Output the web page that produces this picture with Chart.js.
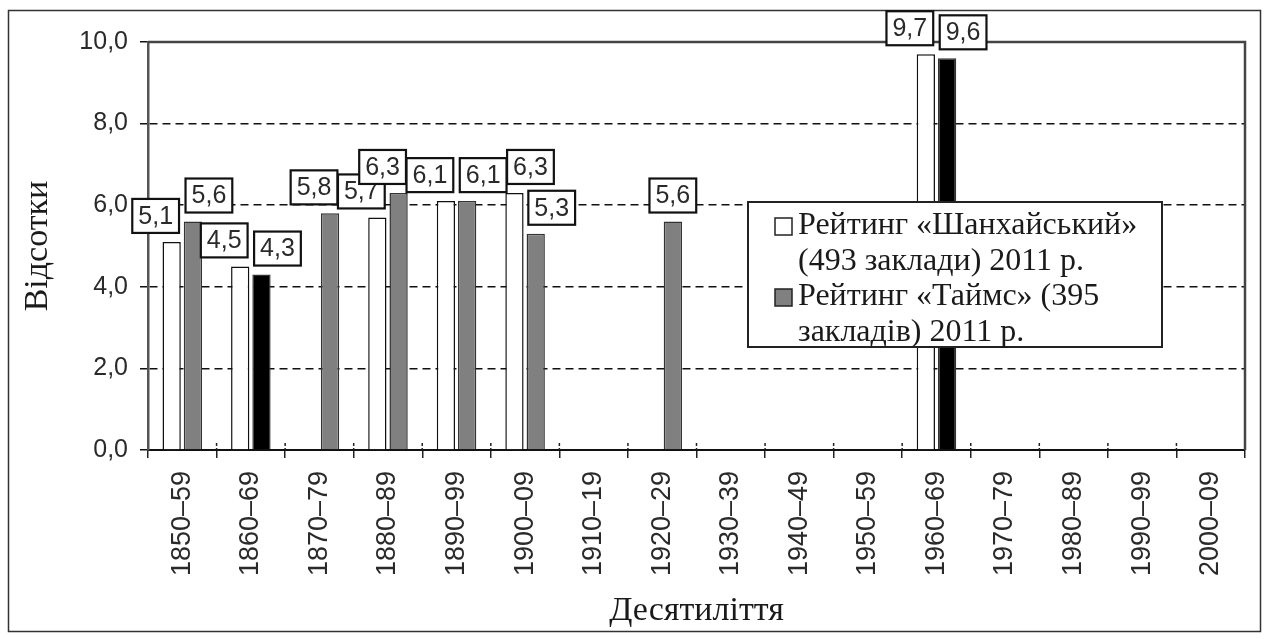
<!DOCTYPE html>
<html>
<head>
<meta charset="utf-8">
<title>Десятиліття заснування університетів</title>
<script src="https://cdn.jsdelivr.net/npm/chart.js@4/dist/chart.umd.min.js"></script>
<style>
    html, body { margin: 0; padding: 0; background: #fff; }
</style>
</head>
<body>
<canvas id="decadesChart" width="1268" height="639"></canvas>
<script>
// десятиліття заснування
var decades = ['1850–59', '1860–69', '1870–79', '1880–89', '1890–99', '1900–09', '1910–19', '1920–29',
               '1930–39', '1940–49', '1950–59', '1960–69', '1970–79', '1980–89', '1990–99', '2000–09'];
// відсотки закладів, null = стовпчика немає
var shanghai = [5.1, 4.5, null, 5.7, 6.1, 6.3, null, null, null, null, null, 9.7, null, null, null, null];
var times = [5.6, 4.3, 5.8, 6.3, 6.1, 5.3, null, 5.6, null, null, null, 9.6, null, null, null, null];
var yTicks = [0, 2, 4, 6, 8, 10];
var shanghaiLegend = ['Рейтинг «Шанхайський»', '(493 заклади) 2011 р.'];
var timesLegend = ['Рейтинг «Таймс» (395', 'закладів) 2011 р.'];
// ці стовпчики «Таймс» в оригіналі чорні
var timesDark = ['1860–69', '1960–69'];

var SANS = '"Liberation Sans", Arial, sans-serif';
var SERIF = '"Liberation Serif", "Times New Roman", serif';

function fmt(v) {
    return Number(v).toFixed(1).replace('.', ',');
}

// рамка навколо всього малюнка
var framePlugin = {
    id: 'frame',
    beforeDraw: function (chart) {
        var ctx = chart.ctx;
        ctx.save();
        ctx.fillStyle = '#fff';
        ctx.fillRect(0, 0, chart.width, chart.height);
        ctx.strokeStyle = '#333';
        ctx.lineWidth = 1.5;
        ctx.strokeRect(8.5, 10.5, chart.width - 16, chart.height - 18);
        ctx.restore();
    }
};

// верхня і права межі області побудови + рисочки над віссю X
var plotBorderPlugin = {
    id: 'plotBorder',
    beforeDatasetsDraw: function (chart) {
        var a = chart.chartArea;
        var ctx = chart.ctx;
        var xs = chart.scales.x;
        ctx.save();
        ctx.strokeStyle = '#444';
        ctx.lineWidth = 2.5;
        ctx.beginPath();
        ctx.moveTo(a.left, a.top);
        ctx.lineTo(a.right, a.top);
        ctx.lineTo(a.right, a.bottom);
        ctx.stroke();
        ctx.strokeStyle = '#222';
        ctx.lineWidth = 1.5;
        ctx.setLineDash([3, 2]);
        for (var i = 1; i < decades.length; i++) {
            var bx = (xs.getPixelForValue(i - 1) + xs.getPixelForValue(i)) / 2;
            ctx.beginPath();
            ctx.moveTo(bx, a.bottom - 7);
            ctx.lineTo(bx, a.bottom);
            ctx.stroke();
        }
        ctx.restore();
    }
};

// підписи значень у рамочках; side: куди зсунуто рамку від стовпчика (-1 вліво, 1 вправо)
var valueBoxPlugin = {
    id: 'valueBoxes',
    afterDatasetsDraw: function (chart, args, opts) {
        var ctx = chart.ctx;
        var sets = chart.data.datasets;
        ctx.save();
        ctx.font = '25px ' + SANS;
        ctx.textAlign = 'center';
        ctx.textBaseline = 'middle';
        decades.forEach(function (d, i) {
            sets.forEach(function (ds, di) {
                var v = ds.data[i];
                if (v === null || v === undefined) return;
                var bar = chart.getDatasetMeta(di).data[i];
                var text = fmt(v);
                var w = ctx.measureText(text).width + 12;
                var h = 34;
                var cx = bar.x + opts.side[di][i] * opts.shift;
                var bottom = bar.y - opts.gap;
                ctx.fillStyle = '#fff';
                ctx.fillRect(cx - w / 2, bottom - h, w, h);
                ctx.strokeStyle = '#111';
                ctx.lineWidth = 2.2;
                ctx.strokeRect(cx - w / 2, bottom - h, w, h);
                ctx.fillStyle = '#2a2a2a';
                ctx.fillText(text, cx, bottom - h / 2 + 1);
            });
        });
        ctx.restore();
    }
};

// легенда поверх стовпчиків, як в оригіналі
var boxLegendPlugin = {
    id: 'boxLegend',
    afterDraw: function (chart, args, opts) {
        var ctx = chart.ctx;
        ctx.save();
        ctx.fillStyle = '#fff';
        ctx.fillRect(opts.x, opts.y, opts.w, opts.h);
        ctx.strokeStyle = '#222';
        ctx.lineWidth = 2;
        ctx.strokeRect(opts.x, opts.y, opts.w, opts.h);
        ctx.font = '32px ' + SERIF;
        ctx.textAlign = 'left';
        ctx.textBaseline = 'alphabetic';
        var base = opts.y + 32;
        var groups = [shanghaiLegend, timesLegend];
        chart.data.datasets.forEach(function (ds, di) {
            var lines = groups[di];
            ctx.fillStyle = ds.legendColor;
            ctx.fillRect(opts.x + 27, base - 16, 17, 17);
            ctx.strokeStyle = '#222';
            ctx.lineWidth = 1.5;
            ctx.strokeRect(opts.x + 27, base - 16, 17, 17);
            ctx.fillStyle = '#1a1a1a';
            lines.forEach(function (ln) {
                ctx.fillText(ln, opts.x + 50, base);
                base += 35.5;
            });
        });
        ctx.restore();
    }
};

var ctx = document.getElementById('decadesChart').getContext('2d');

var myChart = new Chart(ctx, {
    type: 'bar',
    data: {
        labels: decades,
        datasets: [{
            label: shanghaiLegend.join(' '),
            data: shanghai,
            backgroundColor: '#ffffff',
            borderColor: '#111',
            borderWidth: 1.5,
            legendColor: '#ffffff'
        }, {
            label: timesLegend.join(' '),
            data: times,
            backgroundColor: decades.map(function (d) {
                return timesDark.indexOf(d) >= 0 ? '#000000' : '#808080';
            }),
            borderColor: '#333',
            borderWidth: 1.5,
            legendColor: '#808080'
        }]
    },
    options: {
        responsive: false,
        animation: false,
        categoryPercentage: 0.62,
        barPercentage: 0.86,
        layout: {
            padding: { left: 16, right: 23, top: 42, bottom: 8 }
        },
        plugins: {
            legend: { display: false },
            tooltip: { enabled: false },
            valueBoxes: {
                shift: 16,
                gap: 9,
                side: [
                    [-1, -1, 0, -1, -1, 1, 0, 0, 0, 0, 0, -1, 0, 0, 0, 0],
                    [1, 1, -1, -1, 1, 1, 0, 0, 0, 0, 0, 1, 0, 0, 0, 0]
                ]
            },
            boxLegend: { x: 748, y: 202, w: 414, h: 145 }
        },
        scales: {
            x: {
                grid: {
                    offset: true,
                    drawOnChartArea: false,
                    drawTicks: true,
                    tickLength: 8,
                    color: '#222',
                    lineWidth: 1.5
                },
                border: { color: '#111', width: 2 },
                ticks: {
                    autoSkip: false,
                    minRotation: 90,
                    maxRotation: 90,
                    padding: 13,
                    color: '#2a2a2a',
                    font: { family: SANS, size: 27 }
                },
                title: {
                    display: true,
                    text: 'Десятиліття',
                    color: '#1a1a1a',
                    font: { family: SERIF, size: 34 },
                    padding: { top: 0, bottom: 0 }
                },
                afterFit: function (scale) {
                    scale.height = 639 - 450 - 8;
                }
            },
            y: {
                min: 0,
                max: 10,
                afterBuildTicks: function (scale) {
                    scale.ticks = yTicks.map(function (v) { return { value: v }; });
                },
                ticks: {
                    padding: 12,
                    color: '#2a2a2a',
                    font: { family: SANS, size: 25 },
                    callback: function (value) { return fmt(value); }
                },
                grid: {
                    color: '#111',
                    lineWidth: 1.5,
                    tickLength: 8,
                    tickBorderDash: []
                },
                border: { dash: [8, 5], color: '#555', width: 2.5 },
                title: {
                    display: true,
                    text: 'Відсотки',
                    color: '#1a1a1a',
                    font: { family: SERIF, size: 34 },
                    padding: { top: 2, bottom: 0 }
                },
                afterFit: function (scale) {
                    scale.width = 148 - 16;
                }
            }
        }
    },
    plugins: [framePlugin, plotBorderPlugin, valueBoxPlugin, boxLegendPlugin]
});
</script>
</body>
</html>
